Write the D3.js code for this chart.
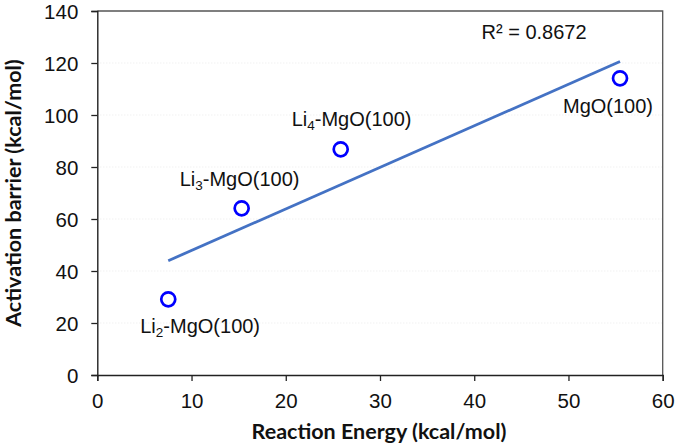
<!DOCTYPE html>
<html><head><meta charset="utf-8">
<script src="https://cdn.jsdelivr.net/npm/d3@7"></script>
<style>body{margin:0;background:#fff}svg{display:block}</style>
</head><body>
<svg id="c" width="677" height="447"></svg>
<script>
const names = ["Li2-MgO(100)", "Li3-MgO(100)", "Li4-MgO(100)", "MgO(100)"];
const labelMain = ["Li", "Li", "Li", ""];
const labelSub = ["2", "3", "4", ""];
const labelRest = ["-MgO(100)", "-MgO(100)", "-MgO(100)", "MgO(100)"];
const reactionEnergy = [7.53, 15.32, 25.83, 55.47];
const activationBarrier = [29.1, 64.1, 86.8, 114.1];
const xTicks = [0, 10, 20, 30, 40, 50, 60];
const yTicks = [0, 20, 40, 60, 80, 100, 120, 140];
const r2Text = "R² = 0.8672";
const xTitle = "Reaction Energy (kcal/mol)";
const yTitle = "Activation barrier (kcal/mol)";

const svg = d3.select("#c");
const L = 97.3, R = 662.7, T = 11, B = 375;
const x = d3.scaleLinear().domain([0, 60]).range([L, R]);
const y = d3.scaleLinear().domain([0, 140]).range([B, T]);

svg.append("g").selectAll("line").data(yTicks.slice(1, -1)).join("line")
  .attr("x1", L).attr("x2", R).attr("y1", d => y(d)).attr("y2", d => y(d))
  .attr("stroke", "#e6e6e6").attr("stroke-width", 0.8).attr("stroke-dasharray", "1,2");

svg.append("path").attr("d", `M${L},${T}H${R}V${B}`).attr("fill", "none")
  .attr("stroke", "#555").attr("stroke-width", 1.3);

const fontNum = "'Liberation Sans', Arial, sans-serif";
const xAxis = svg.append("g").attr("transform", `translate(0,${B})`)
  .call(d3.axisBottom(x).tickValues(xTicks).tickSize(6).tickPadding(9).tickFormat(d3.format("d")));
const yAxis = svg.append("g").attr("transform", `translate(${L},0)`)
  .call(d3.axisLeft(y).tickValues(yTicks).tickSize(6).tickPadding(13).tickFormat(d3.format("d")));
[xAxis, yAxis].forEach(g => {
  g.select(".domain").attr("stroke", "#222").attr("stroke-width", 1.4);
  g.selectAll(".tick line").attr("stroke", "#222").attr("stroke-width", 1.3);
  g.selectAll("text").attr("font-family", fontNum).attr("font-size", 20.5).attr("fill", "#111");
});
xAxis.selectAll("text").attr("dy", "0.9em");
yAxis.selectAll("text").attr("dy", "0.36em");

const n = reactionEnergy.length;
const mx = d3.mean(reactionEnergy), my = d3.mean(activationBarrier);
let sxy = 0, sxx = 0;
for (let i = 0; i < n; i++) { sxy += (reactionEnergy[i]-mx)*(activationBarrier[i]-my); sxx += (reactionEnergy[i]-mx)**2; }
const slope = sxy / sxx, icpt = my - slope * mx;
const x0 = d3.min(reactionEnergy), x1 = d3.max(reactionEnergy);
svg.append("line")
  .attr("x1", x(x0)).attr("y1", y(icpt + slope * x0))
  .attr("x2", x(x1)).attr("y2", y(icpt + slope * x1))
  .attr("stroke", "#4472C4").attr("stroke-width", 2.8);

svg.append("g").selectAll("circle").data(reactionEnergy).join("circle")
  .attr("cx", d => x(d)).attr("cy", (d, i) => y(activationBarrier[i]))
  .attr("r", 7).attr("fill", "none").attr("stroke", "#0000FF").attr("stroke-width", 2.7);

const labelOff = [[-28, 34], [-62, -22], [-49, -23], [-57, 35]];
const lab = svg.append("g").attr("font-family", fontNum).attr("font-size", 20).attr("fill", "#111");
names.forEach((nm, i) => {
  const t = lab.append("text")
    .attr("x", x(reactionEnergy[i]) + labelOff[i][0])
    .attr("y", y(activationBarrier[i]) + labelOff[i][1]);
  if (labelMain[i]) {
    t.append("tspan").text(labelMain[i]);
    t.append("tspan").text(labelSub[i]).attr("font-size", 13.5).attr("dy", 4);
    t.append("tspan").text(labelRest[i]).attr("dy", -4);
  } else {
    t.text(labelRest[i]);
  }
});

svg.append("text").attr("x", 481.5).attr("y", 39).attr("font-family", fontNum)
  .attr("font-size", 20).attr("fill", "#111").text(r2Text);

const fontTitle = "Lato, Carlito, sans-serif";
svg.append("text").attr("x", 379).attr("y", 439).attr("text-anchor", "middle")
  .attr("font-family", fontTitle).attr("font-weight", "bold").attr("font-size", 21.5)
  .attr("fill", "#111").text(xTitle);
svg.append("text").attr("transform", "translate(21,193) rotate(-90)").attr("text-anchor", "middle")
  .attr("font-family", fontTitle).attr("font-weight", "bold").attr("font-size", 21.5)
  .attr("fill", "#111").text(yTitle);
</script>
</body></html>
